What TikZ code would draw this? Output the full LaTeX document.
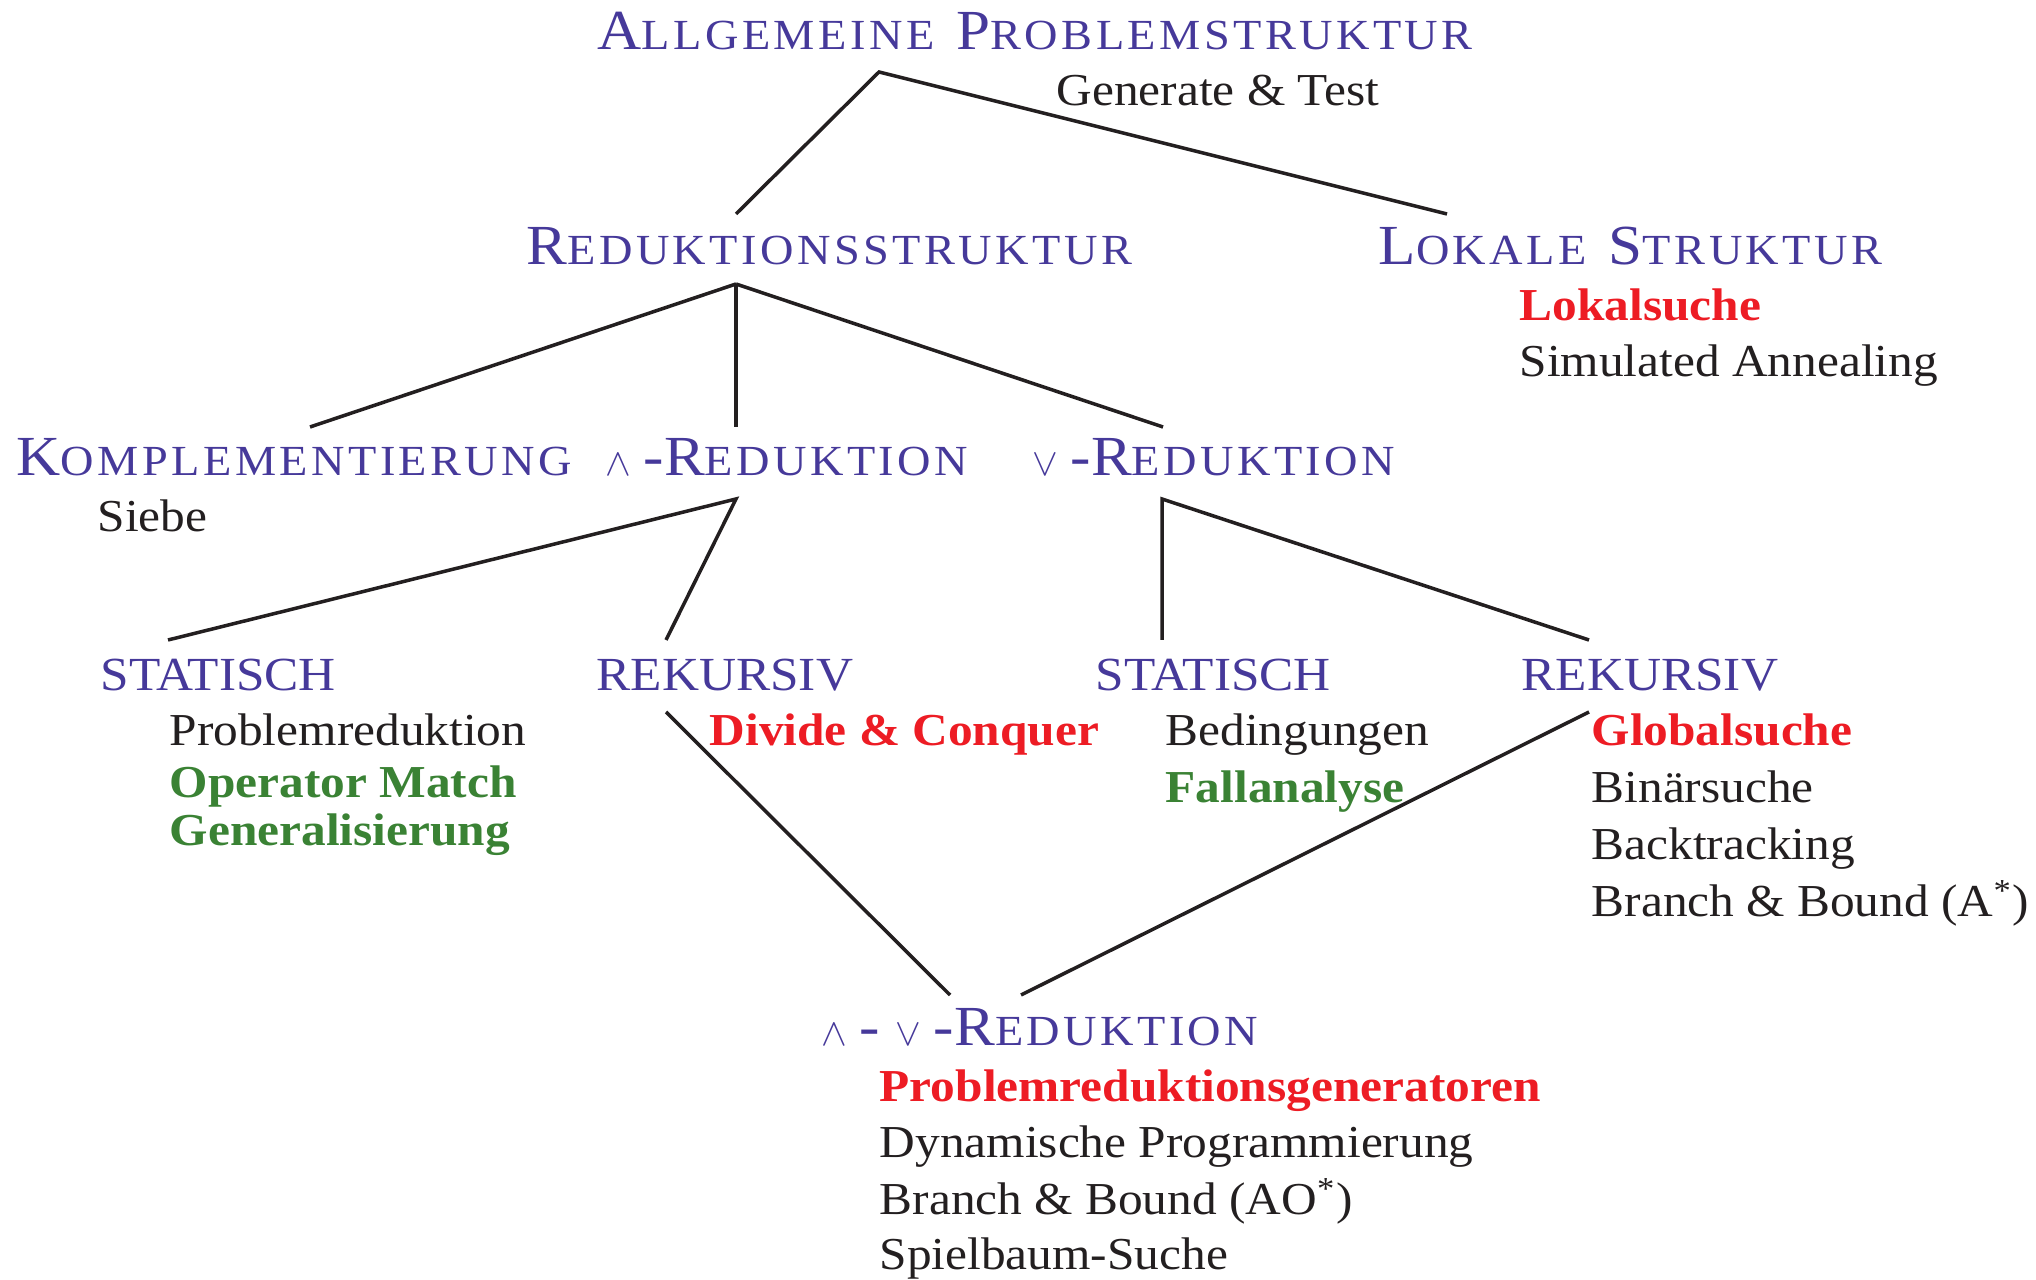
\documentclass[tikz,border=0pt]{standalone}
\usepackage{fontspec}
\setmainfont{Liberation Serif}[FakeStretch=1.08]
\usetikzlibrary{positioning}
\definecolor{kblau}{RGB}{70,57,154}
\definecolor{krot}{RGB}{237,28,36}
\definecolor{kgruen}{RGB}{58,130,52}
\definecolor{kschwarz}{RGB}{35,31,32}
\newcommand\grund{\fontsize{13}{16}\selectfont}
\newcommand\Kap[2]{{\fontsize{16.1}{18}\selectfont #1}{\fontsize{12.2}{14}\selectfont\addfontfeature{LetterSpace=8}#2}}
\newcommand\Klein[1]{{\fontsize{13.5}{16}\selectfont #1}}
\newcommand\Und{{\fontsize{11}{12}\selectfont$\wedge$}}
\newcommand\Oder{{\fontsize{11}{12}\selectfont$\vee$}}
\newcommand\Strich{\hspace{3.5pt}{\fontsize{16.1}{18}\selectfont -}}
\newcommand\Luecke{\hspace{6.3pt}}
\tikzset{
  kopf/.style={anchor=base west, inner sep=0pt, text=kblau, font=\grund},
  eintrag/.style={anchor=base west, inner sep=0pt, text=kschwarz, font=\grund},
  rot/.style={eintrag, text=krot, font=\grund\bfseries},
  gruen/.style={eintrag, text=kgruen, font=\grund\bfseries},
  ast/.style={line width=1pt, draw=kschwarz}
}
\begin{document}
\begin{tikzpicture}[x=0.01cm, y=-0.01cm]
\useasboundingbox (0,0) rectangle (2036,1280);

\def\ya{265};
\def\yb{476};
\def\yc{691};
\def\yd{746};

\node[kopf] (allg) at (597,50) {\Kap{A}{LLGEMEINE}\Luecke\Kap{P}{ROBLEMSTRUKTUR}};
\node[eintrag] (gt) at (1056,106) {Generate \& Test};

\node[kopf] (red) at (526,\ya) {\Kap{R}{EDUKTIONSSTRUKTUR}};
\node[kopf] (lok) at (1378,\ya) {\Kap{L}{OKALE}\Luecke\Kap{S}{TRUKTUR}};
\node[rot] (ls) at (1519,321) {Lokalsuche};
\node[eintrag] (sa) at (1519,377) {Simulated Annealing};

\node[kopf] (kompl) at (16,\yb) {\Kap{K}{OMPLEMENTIERUNG}};
\node[eintrag] (sieb) at (97,532) {Siebe};
\node[kopf] (und) at (605,\yb) {\Und\Strich\Kap{R}{EDUKTION}};
\node[kopf] (oder) at (1032,\yb) {\Oder\Strich\Kap{R}{EDUKTION}};

\node[kopf] (st1) at (100,\yc) {\Klein{STATISCH}};
\node[eintrag] (pr) at (169,\yd) {Problemreduktion};
\node[gruen] (om) at (169,798) {Operator Match};
\node[gruen] (gen) at (169,846) {Generalisierung};

\node[kopf] (rk1) at (596,\yc) {\Klein{REKURSIV}};
\node[rot] (dc) at (709,\yd) {Divide \& Conquer};

\node[kopf] (st2) at (1095,\yc) {\Klein{STATISCH}};
\node[eintrag] (bed) at (1165,\yd) {Bedingungen};
\node[gruen] (fa) at (1165,803) {Fallanalyse};

\node[kopf] (rk2) at (1521,\yc) {\Klein{REKURSIV}};
\node[rot] (gs) at (1591,\yd) {Globalsuche};
\node[eintrag] (bs) at (1591,803) {Binärsuche};
\node[eintrag] (bt) at (1591,860) {Backtracking};
\node[eintrag] (bb) at (1591,917) {Branch \& Bound (A\textsuperscript{*})};

\node[kopf] (uo) at (821,1046) {\Und\Strich\hspace{4.5pt}\Oder\Strich\Kap{R}{EDUKTION}};
\node[rot] (prg) at (879,1102) {Problemreduktionsgeneratoren};
\node[eintrag] (dp) at (879,1158) {Dynamische Programmierung};
\node[eintrag] (bao) at (879,1215) {Branch \& Bound (AO\textsuperscript{*})};
\node[eintrag] (sp) at (879,1270) {Spielbaum-Suche};

\coordinate (a) at (879,72);
\coordinate (b) at (736,214);
\coordinate (c) at (1447,214);
\coordinate (d) at (736,284);
\coordinate (e) at (310,427);
\coordinate (f) at (736,427);
\coordinate (g) at (1163,427);
\coordinate (h) at (736,499);
\coordinate (i) at (168,640);
\coordinate (j) at (666,640);
\coordinate (k) at (1162,499);
\coordinate (l) at (1162,640);
\coordinate (m) at (1589,640);
\coordinate (n) at (666,712);
\coordinate (o) at (1589,712);
\coordinate (p) at (950,995);
\coordinate (q) at (1021,995);

\draw[ast] (b) -- (a) -- (c);
\draw[ast] (d) -- (e);
\draw[ast] (d) -- (f);
\draw[ast] (d) -- (g);
\draw[ast] (i) -- (h) -- (j);
\draw[ast] (l) -- (k) -- (m);
\draw[ast] (n) -- (p);
\draw[ast] (o) -- (q);
\end{tikzpicture}
\end{document}
